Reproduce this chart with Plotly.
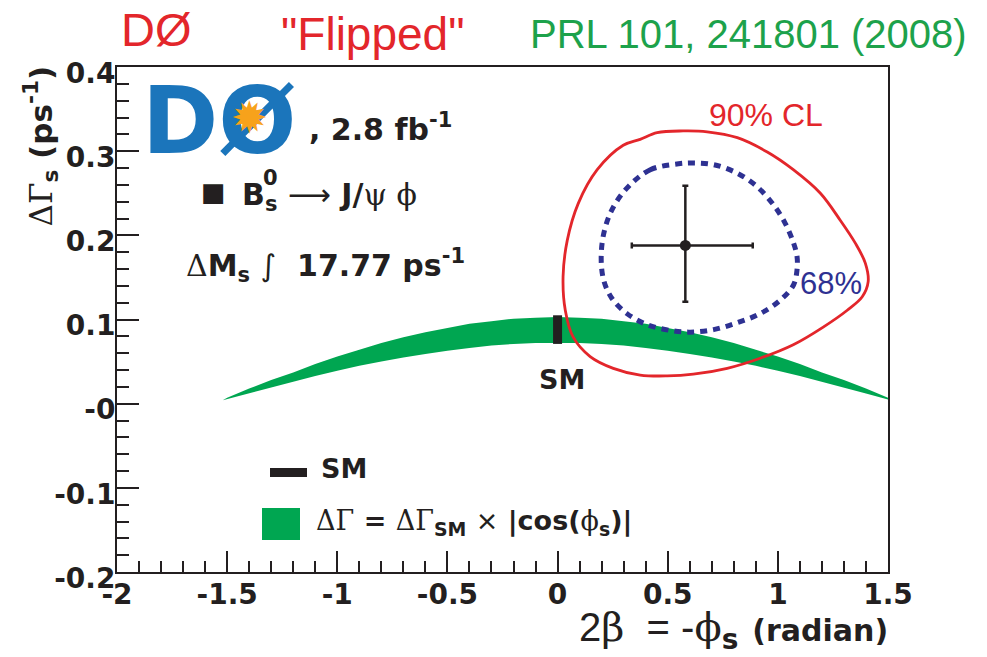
import plotly.graph_objects as go

# ---------------- data ----------------
# green band: dGamma = dGamma_SM * |cos(phi_s)|
band_phi = [-1.52, -1.5, -1.4, -1.3, -1.2, -1.1, -1.0, -0.9, -0.8, -0.7, -0.6, -0.5, -0.4, -0.3, -0.2, -0.1,
            0.0, 0.1, 0.2, 0.3, 0.4, 0.5, 0.6, 0.7, 0.8, 0.9, 1.0, 1.1, 1.2, 1.3, 1.4, 1.5]
band_hi = [0.004, 0.007, 0.018, 0.028, 0.037, 0.047, 0.056, 0.064, 0.072, 0.079, 0.085, 0.090, 0.095, 0.098, 0.101, 0.102,
           0.103, 0.102, 0.101, 0.098, 0.095, 0.090, 0.085, 0.079, 0.072, 0.064, 0.056, 0.047, 0.037, 0.028, 0.018, 0.007]
band_lo = [0.004, 0.005, 0.012, 0.019, 0.026, 0.033, 0.039, 0.045, 0.050, 0.055, 0.059, 0.063, 0.066, 0.069, 0.071, 0.072,
           0.072, 0.072, 0.071, 0.069, 0.066, 0.063, 0.059, 0.055, 0.050, 0.045, 0.039, 0.033, 0.026, 0.019, 0.012, 0.005]

# 68% contour (blue dotted)
c68_phi = [0.549, 0.421, 0.322, 0.254, 0.213, 0.198, 0.209, 0.247, 0.315, 0.405, 0.511, 0.602, 0.708, 0.814,
           0.920, 1.011, 1.071, 1.087, 1.087, 1.071, 1.034, 0.981, 0.905, 0.814, 0.708, 0.617, 0.549]
c68_dg = [0.285, 0.278, 0.258, 0.234, 0.206, 0.175, 0.147, 0.125, 0.107, 0.094, 0.087, 0.085, 0.088, 0.096,
          0.107, 0.123, 0.141, 0.159, 0.175, 0.191, 0.214, 0.236, 0.258, 0.274, 0.284, 0.286, 0.285]

# 90% contour (red solid)
c90_phi = [0.452, 0.375, 0.298, 0.180, 0.094, 0.044, 0.025, 0.035, 0.071, 0.148, 0.253, 0.375, 0.498, 0.616,
           0.770, 0.920, 1.070, 1.206, 1.315, 1.383, 1.410, 1.397, 1.351, 1.283, 1.193, 1.070, 0.952, 0.816,
           0.679, 0.570, 0.452]
c90_dg = [0.322, 0.314, 0.307, 0.278, 0.238, 0.194, 0.151, 0.111, 0.079, 0.056, 0.042, 0.034, 0.033, 0.035,
          0.042, 0.054, 0.070, 0.091, 0.111, 0.127, 0.145, 0.167, 0.191, 0.218, 0.250, 0.278, 0.299, 0.316,
          0.323, 0.324, 0.322]

# best fit point with errors
fit_phi = [0.58]
fit_dg = [0.188]
fit_phi_err_plus = [0.306]
fit_phi_err_minus = [0.243]
fit_dg_err_plus = [0.071]
fit_dg_err_minus = [0.067]

# SM prediction (black bar)
sm_phi = [0.0, 0.0]
sm_dg = [0.071, 0.105]

# axis ticks
x_tickvals = [-2, -1.5, -1, -0.5, 0, 0.5, 1, 1.5]
x_ticktext = ["-2", "-1.5", "-1", "-0.5", "0", "0.5", "1", "1.5"]
y_tickvals = [-0.2, -0.1, 0, 0.1, 0.2, 0.3, 0.4]
y_ticktext = ["-0.2", "-0.1", "-0", "0.1", "0.2", "0.3", "0.4"]

# ---------------- styling ----------------
W, H = 987, 657
L, R, T, B = 117, 888, 67, 572
RED = "#E3262B"
GREEN = "#00A651"
TGREEN = "#1DA24B"
BLUE = "#2E3192"
INK = "#231F20"
BOLD = "DejaVu Sans"
SANS = "Liberation Sans"
SERIF = "DejaVu Serif"
GREEK = "<span style='font-family:DejaVu Serif;font-weight:normal'>%s</span>"


def px(xp):
    return (xp - L) / (R - L)


def py(yp):
    return (B - yp) / (B - T)


fig = go.Figure()

fig.add_trace(go.Scatter(
    x=band_phi + band_phi[::-1], y=band_hi + band_lo[::-1],
    fill="toself", fillcolor=GREEN, line=dict(width=0, color=GREEN),
    mode="lines", hoverinfo="skip", showlegend=False))

fig.add_trace(go.Scatter(
    x=sm_phi, y=sm_dg, mode="lines", line=dict(color=INK, width=9),
    showlegend=False, hoverinfo="skip"))

fig.add_trace(go.Scatter(
    x=c90_phi, y=c90_dg, mode="lines",
    line=dict(color=RED, width=2.8, shape="spline", smoothing=1.0),
    showlegend=False, hoverinfo="skip"))

fig.add_trace(go.Scatter(
    x=c68_phi, y=c68_dg, mode="lines",
    line=dict(color=BLUE, width=5, dash="7px,6px", shape="spline", smoothing=1.0),
    showlegend=False, hoverinfo="skip"))

fig.add_trace(go.Scatter(
    x=fit_phi, y=fit_dg, mode="markers",
    marker=dict(color=INK, size=11, symbol="circle"),
    error_x=dict(type="data", symmetric=False, array=fit_phi_err_plus,
                 arrayminus=fit_phi_err_minus, color=INK, thickness=2.5, width=3),
    error_y=dict(type="data", symmetric=False, array=fit_dg_err_plus,
                 arrayminus=fit_dg_err_minus, color=INK, thickness=2.5, width=3),
    showlegend=False, hoverinfo="skip"))

ann = []


def add(text, x, y, size, color=INK, family=BOLD, weight="bold",
        xanchor="center", yanchor="middle", **kw):
    ann.append(dict(text=text, x=x, y=y, xref="paper", yref="paper", showarrow=False,
                    xanchor=xanchor, yanchor=yanchor,
                    font=dict(family=family, size=size, color=color, weight=weight), **kw))


# top titles
add("DØ", px(156), py(30), 47, RED, SANS, "normal")
add("\"Flipped\"", px(373), py(34), 46, RED, SANS, "normal")
add("PRL 101, 241801 (2008)", px(748), py(34), 40, TGREEN, SANS, "normal")

# logo
add("DØ", px(219), py(121), 92, "#1B75BB", BOLD, "bold")
add("✹", px(249), py(118), 44, "#F7A21B", BOLD, "normal")

# inside texts
add(", 2.8 fb<sup>-1</sup>", px(307), py(127), 30, xanchor="left")
add("■", px(213), py(192), 26)
add("B<sub>s</sub> <span style='font-weight:normal'>⟶</span> J/" + GREEK % "ψ ϕ",
    px(240), py(196), 30, xanchor="left")
add("0", px(270), py(178), 21)
add(GREEK % "Δ" + "M<sub>s</sub> <span style='font-weight:normal'>∫</span>  17.77 ps<sup>-1</sup>",
    px(184), py(265), 30, xanchor="left")

# contour labels
add("90% CL", px(766), py(115), 32, RED, SANS, "normal")
add("68%", px(831), py(283), 31, BLUE, SANS, "normal")

# SM label under band
add("SM", px(562), py(379), 27)

# legend
add("SM", px(319), py(468), 27, xanchor="left")
add(GREEK % "ΔΓ" + " = " + GREEK % "ΔΓ" + "<sub>SM</sub> "
    "<span style='font-weight:normal'>×</span> |cos(" + GREEK % "ϕ" + "<sub>s</sub>)|",
    px(314), py(522), 27, xanchor="left")

# axis titles
add(GREEK % "ΔΓ" + "<sub>s</sub> (ps<sup>-1</sup>)",
    px(41), py(64), 31, textangle=-90, yanchor="top")
add("<span style='font-family:Liberation Sans;font-weight:normal'>2</span>"
    + GREEK % "β"
    + "<span style='font-family:Liberation Sans;font-weight:normal'>  = -</span>"
    + GREEK % "ϕ" + "<sub>s</sub>"
    " <span style='font-size:30px'>(radian)</span>",
    px(890), py(630), 40, xanchor="right")

shapes = [
    dict(type="rect", xref="paper", yref="paper", x0=px(270), x1=px(307), y0=py(468), y1=py(477),
         fillcolor=INK, line=dict(width=0)),
    dict(type="rect", xref="paper", yref="paper", x0=px(262), x1=px(300), y0=py(508), y1=py(540),
         fillcolor=GREEN, line=dict(width=0)),
]

fig.update_layout(
    width=W, height=H,
    margin=dict(l=L, r=W - R, t=T, b=H - B, pad=0),
    paper_bgcolor="white", plot_bgcolor="white",
    annotations=ann, shapes=shapes, showlegend=False,
    xaxis=dict(range=[-2, 1.5], tickmode="array", tickvals=x_tickvals, ticktext=x_ticktext,
               ticks="inside", ticklen=21, tickwidth=2, tickcolor=INK,
               minor=dict(ticks="inside", ticklen=11, tickwidth=2, tickcolor=INK, dtick=0.1, tick0=0),
               showline=True, linecolor=INK, linewidth=2, mirror=True,
               showgrid=False, zeroline=False, ticklabelstandoff=-4,
               tickfont=dict(family=BOLD, size=28, color=INK, weight="bold")),
    yaxis=dict(range=[-0.2, 0.4], tickmode="array", tickvals=y_tickvals, ticktext=y_ticktext,
               ticks="inside", ticklen=22, tickwidth=2, tickcolor=INK,
               minor=dict(ticks="inside", ticklen=12, tickwidth=2, tickcolor=INK, dtick=0.02, tick0=0),
               showline=True, linecolor=INK, linewidth=2, mirror=True,
               showgrid=False, zeroline=False, ticklabelstandoff=-6, ticklabelshift=6,
               tickfont=dict(family=BOLD, size=28, color=INK, weight="bold")),
)

fig.write_html("out.html", config={"displayModeBar": False})
